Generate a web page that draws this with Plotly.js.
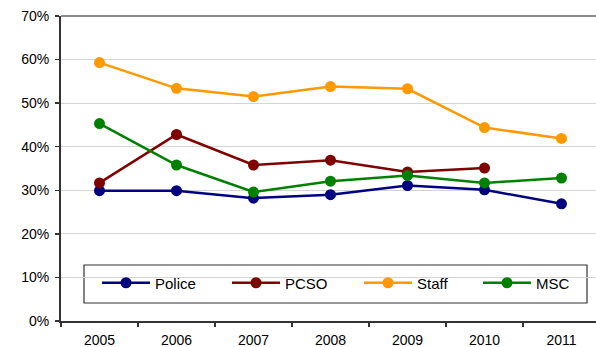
<!DOCTYPE html>
<html>
<head>
<meta charset="utf-8">
<script src="https://cdn.plot.ly/plotly-3.0.1.min.js"></script>
<style>
  html, body { margin: 0; padding: 0; background: #ffffff; }
  #chart { width: 596px; height: 347px; }
</style>
</head>
<body>
<div id="chart"></div>
<script>
// Survey years
const years = ['2005', '2006', '2007', '2008', '2009', '2010', '2011'];

// Share per group (fraction of 1); PCSO has no 2011 value
const police = [0.299, 0.299, 0.282, 0.290, 0.311, 0.301, 0.269];
const pcso   = [0.317, 0.428, 0.358, 0.369, 0.342, 0.351, null];
const staff  = [0.593, 0.534, 0.515, 0.538, 0.533, 0.444, 0.419];
const msc    = [0.453, 0.358, 0.296, 0.321, 0.334, 0.317, 0.328];

const seriesNames  = ['Police', 'PCSO', 'Staff', 'MSC'];
const seriesValues = [police, pcso, staff, msc];
const seriesColors = ['#000080', '#800000', '#FF9900', '#008000'];

const font = 'Liberation Sans, Arial, sans-serif';

const W = 596, H = 347;
const mL = 61, mR = 0, mT = 16, mB = 26;
const plotW = W - mL - mR, plotH = H - mT - mB;
const px = v => (v - mL) / plotW;          // page x -> paper x
const py = v => (H - mB - v) / plotH;      // page y -> paper y

// one legend per series so each entry sits at its own spot in the key box
const legendIds   = ['legend', 'legend2', 'legend3', 'legend4'];
const legendLeft  = [97, 227, 359, 478];

const traces = seriesNames.map((name, i) => ({
  type: 'scatter',
  mode: 'lines+markers',
  name: name,
  legend: legendIds[i],
  x: years,
  y: seriesValues[i],
  connectgaps: false,
  line: { color: seriesColors[i], width: 2.5 },
  marker: { color: seriesColors[i], size: 11 },
  hoverinfo: 'x+y+name'
}));

const legendBase = {
  orientation: 'h',
  xanchor: 'left',
  y: py(283),
  yanchor: 'middle',
  bgcolor: 'rgba(0,0,0,0)',
  borderwidth: 0,
  itemwidth: 48,
  font: { family: font, size: 15, color: '#000000' },
  itemclick: false,
  itemdoubleclick: false
};

const layout = {
  width: W,
  height: H,
  margin: { l: mL, r: mR, t: mT, b: mB, pad: 0 },
  paper_bgcolor: '#ffffff',
  plot_bgcolor: '#ffffff',
  showlegend: true,
  font: { family: font, size: 14, color: '#000000' },
  xaxis: {
    type: 'category',
    range: [-0.5, -0.5 + plotW / 77],
    tickson: 'boundaries',
    ticks: 'outside',
    ticklen: 4,
    tickwidth: 1.5,
    tickcolor: '#333333',
    ticklabelstandoff: 5,
    showline: true,
    linecolor: '#333333',
    linewidth: 2,
    showgrid: false,
    zeroline: false,
    tickfont: { family: font, size: 14, color: '#000000' },
    fixedrange: true
  },
  yaxis: {
    range: [0, 0.7],
    dtick: 0.1,
    tick0: 0,
    tickformat: '.0%',
    ticks: 'outside',
    ticklen: 4,
    tickwidth: 1.5,
    tickcolor: '#333333',
    ticklabelstandoff: 3,
    showline: true,
    linecolor: '#333333',
    linewidth: 2,
    showgrid: true,
    gridcolor: '#d4d4d4',
    gridwidth: 1,
    zeroline: false,
    tickfont: { family: font, size: 14, color: '#000000' },
    fixedrange: true
  },
  shapes: [
    // top frame line at 70%
    { type: 'line', xref: 'paper', yref: 'paper', x0: 0, x1: 1, y0: 1, y1: 1,
      line: { color: '#8c8c8c', width: 2 } },
    // key box
    { type: 'rect', xref: 'paper', yref: 'paper',
      x0: px(84), x1: px(587), y0: py(303), y1: py(265),
      line: { color: '#333333', width: 1.2 }, fillcolor: 'rgba(255,255,255,1)', layer: 'below' }
  ]
};

legendIds.forEach((id, i) => {
  layout[id] = Object.assign({}, legendBase, { x: px(legendLeft[i]) });
});

Plotly.newPlot('chart', traces, layout, { displayModeBar: false, staticPlot: true });
</script>
</body>
</html>
